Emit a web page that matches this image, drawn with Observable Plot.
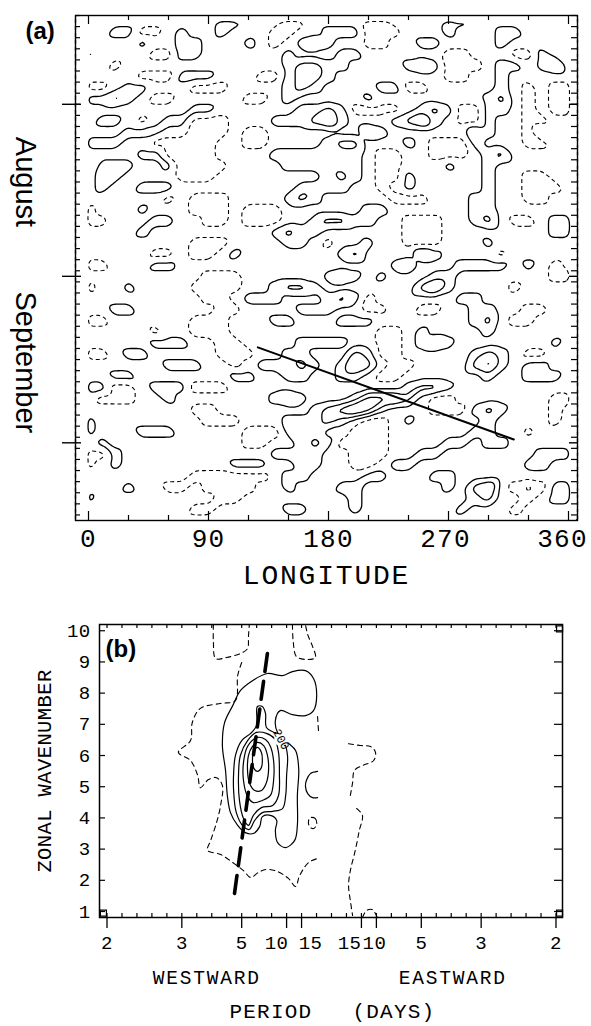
<!DOCTYPE html>
<html>
<head>
<meta charset="utf-8">
<script src="https://cdn.jsdelivr.net/npm/d3@7"></script>
<script src="https://cdn.jsdelivr.net/npm/@observablehq/plot@0.6"></script>
<style>
  html, body { margin: 0; padding: 0; background: #fff; }
  #page { position: relative; width: 591px; height: 1026px; overflow: hidden; background: #fff; }
  #pa, #pb { position: absolute; left: 0; }
  #pa { top: 0; }
  #pb { top: 610px; }
  svg { display: block; }
</style>
</head>
<body>
<div id="page"><div id="pa"></div><div id="pb"></div></div>
<script>
// ================= Panel (a): longitude–time section =================
// Grid nodes: every 10° of longitude, every 2 days (day 0 = 16 July).
const hovLon = d3.range(0, 361, 10);
const hovDay = d3.range(1, 92, 2);
// Anomaly level at each node: b = -2, a = -1, . = 0, 1..4 positive.
const hovRows = [
  ".......... 11...aa... .aa....11. .......",
  "..11aa.1.. 1...aa..11 1aaa...1.. .11....",
  "....1..11. ..1.a.121. .aa..11... .1.....",
  "1....aa11. .....1...1 1......aa. ..aa1..",
  "..a....... .....12211 ....121aaa .11.12.",
  "....aaa111 ...aa1221. .......aa. .1.....",
  "aa.11...aa a....121.. ..11aa.... .1.a.aa",
  "1121.aa... ..aa.1.... .1........ 12.a.aa",
  "........11 ......1121 aaaa.121aa 11.a.aa",
  ".11.a.11aa a...111231 ...1231.aa 1..aa..",
  "...111..aa a.aa...... .21......2 1..a1..",
  "111..aaaaa ..aa....12 2...1.aaa1 ...aa..",
  "....11aaaa ....111111 1.aa..aaa. 12.....",
  "a111..1aaa a....11111 1.aa...1.. 1......",
  ".11....aaa ........12 1.aa1..... 1..aa..",
  ".1..111... ......1111 ..a.1..... 1..aaa.",
  "......a.aa a....121.. ...aaa...1 1..aa..",
  "a...1...aa a.aaa..... .11......1 1......",
  "aa...11..a a.aaa..122 11..aaa..1 2.aa.11",
  "....1..... ....1211.. ....aaa... .....11",
  "........aa a....11.a. .1..aaa... 1......",
  ".....aa.aa .1.......1 2....21... .a.....",
  "aa...11... .......... ...12...11 11.1.a.",
  ".........a aa......12 1.1...11.. .....aa",
  "a..1....aa aa..1221.. .....231.. ..a....",
  ".........a a.111...12 1a......11 .......",
  "..11...... aa....111. .aa..aa..1 1..aa..",
  "aa......aa a...11...1 11.......1 2.aa...",
  ".....a..aa a......... ..aa.1.... 1......",
  ".....111.. aa....1111 ..aa.121.. .....1.",
  "aa.11..... aaa..11... 21aa.....1 21.aa..",
  "......111. .a.11121.1 32.aa....2 31.11..",
  "..11...... .11..11..1 1.aa...... 1..111.",
  "11aa.111aa a......... ....1221.. .......",
  ".aaa..1... ....121... 13332.aa.. .....aa",
  "........aa .......123 431...aaa1 21...a.",
  "1........a aa...11121 .aa.1..... 1....a.",
  "1...111... ..aaa111.. aaa......1 1..a...",
  ".1........ ..aa..121a aaa....11. 11.....",
  "aa1....... ....1111.. aaa..11... ....111",
  "a.1....... .111..11.. aa.11..... ...11..",
  "........aa aaaa.11... .11...11.. .......",
  "...1..aa.a aaa..1...1 1......1.2 3.aba11",
  "1......... aa........ 1........1 2..a.11",
  "........aa .....11... 1.......1. ..a....",
  ".......... .......... .......... ......."
];
const hovCode = {c: -3, b: -2, a: -1, ".": 0, "1": 1, "2": 2, "3": 3, "4": 4};

const lonTicks = [0, 90, 180, 270, 360];
const lonMinor = [30, 60, 120, 150, 210, 240, 300, 330];
const dayTicks = d3.range(0, 92, 2);
const monthStartDay = [16, 47, 77];
const monthNames = ["August", "September"];
const monthLabelDay = [30, 62.5];
const phaseLon = [127, 319];
const phaseDay = [59.8, 76.4];

const hovPoints = [];
hovRows.forEach((row, r) => {
  row.replace(/ /g, "").split("").forEach((ch, c) => {
    hovPoints.push({lon: hovLon[c], day: hovDay[r], v: hovCode[ch]});
  });
});
const phaseLine = phaseLon.map((lon, i) => ({lon, day: phaseDay[i]}));

const MONO = "Liberation Mono, DejaVu Sans Mono, monospace";
const SANS = "Liberation Sans, Arial, sans-serif";
const innerWA = 591 - 75 - 14, innerHA = 610 - 15 - 90;
const contourBase = {x: "lon", y: "day", value: "v", interpolate: "barycentric", pixelSize: 2, blur: 1, fill: "none", stroke: "black"};
const lonLab = {frameAnchor: "bottom", dy: 26, fontFamily: MONO, fontSize: 26, fill: "black"};

const figA = Plot.plot({
  width: 591, height: 610,
  marginLeft: 75, marginRight: 14, marginTop: 15, marginBottom: 90,
  x: {domain: [-9.75, 366.75], axis: null},
  y: {domain: [0, 91], reverse: true, axis: null},
  style: {background: "white"},
  marks: [
    Plot.contour(hovPoints, {...contourBase, thresholds: [-2.5, -1.5, -0.5], strokeWidth: 1.1, strokeDasharray: "4,3"}),
    Plot.contour(hovPoints, {...contourBase, thresholds: [0.5, 1.5, 2.5, 3.5], strokeWidth: 1.3}),
    Plot.line(phaseLine, {x: "lon", y: "day", stroke: "black", strokeWidth: 2}),
    Plot.frame({stroke: "black", strokeWidth: 1.4}),
    // longitude ticks, pointing inward from top and bottom
    Plot.tickX(lonMinor, {x: d => d, insetTop: innerHA - 5, strokeWidth: 1.2}),
    Plot.tickX(lonTicks, {x: d => d, insetTop: innerHA - 9, strokeWidth: 1.2}),
    Plot.tickX(lonMinor, {x: d => d, insetBottom: innerHA - 5, strokeWidth: 1.2}),
    Plot.tickX(lonTicks, {x: d => d, insetBottom: innerHA - 9, strokeWidth: 1.2}),
    // day ticks on both sides, month starts reach outside
    Plot.tickY(dayTicks, {y: d => d, insetRight: innerWA - 5, strokeWidth: 1.2}),
    Plot.tickY(monthStartDay, {y: d => d, insetLeft: -13, insetRight: innerWA - 6, strokeWidth: 1.4}),
    Plot.tickY(dayTicks, {y: d => d, insetLeft: innerWA - 6, strokeWidth: 1.2}),
    Plot.tickY(monthStartDay, {y: d => d, insetLeft: innerWA - 8, strokeWidth: 1.4}),
    Plot.text(lonTicks, {filter: d => d < 270, x: d => d, text: d => String(d), ...lonLab}),
    Plot.text(lonTicks, {filter: d => d === 270, x: d => d, text: d => String(d), ...lonLab, dx: -3}),
    Plot.text(lonTicks, {filter: d => d === 360, x: d => d, text: d => String(d), ...lonLab, dx: -6}),
    Plot.text(["LONGITUDE"], {frameAnchor: "bottom", dy: 63, fontFamily: MONO, fontSize: 28, fill: "black"}),
    Plot.text(monthNames, {y: (d, i) => monthLabelDay[i], text: d => d, frameAnchor: "left", textAnchor: "middle", dx: -50, rotate: 90, fontFamily: SANS, fontSize: 29, fill: "black"}),
    Plot.text(["(a)"], {frameAnchor: "top-left", dx: -50, dy: 23, textAnchor: "start", lineAnchor: "bottom", fontFamily: SANS, fontWeight: "bold", fontSize: 24, fill: "black"})
  ]
});

// ================= Panel (b): wavenumber–frequency power =================
// Contour lines in (frequency [1/day], zonal wavenumber); west is negative.
const c100 = [[-0.243,6.32],[-0.238,7.06],[-0.220,7.60],[-0.203,8.08],[-0.176,8.40],[-0.143,8.63],[-0.109,8.56],[-0.087,8.69],[-0.058,8.72],[-0.040,8.47],[-0.033,7.92],[-0.040,7.44],[-0.058,7.28],[-0.087,7.31],[-0.114,7.44],[-0.125,7.12],[-0.120,6.74],[-0.098,6.42],[-0.080,6.16],[-0.073,5.58],[-0.076,4.72],[-0.076,3.76],[-0.082,3.28],[-0.102,3.05],[-0.120,3.21],[-0.125,3.60],[-0.122,3.92],[-0.136,4.08],[-0.154,4.04],[-0.160,3.72],[-0.174,3.50],[-0.192,3.53],[-0.209,3.76],[-0.225,4.17],[-0.232,4.72],[-0.236,5.52]];
const c150 = [[-0.165,7.57],[-0.154,7.57],[-0.147,7.35],[-0.145,6.90],[-0.125,6.71],[-0.107,6.48],[-0.098,6.00],[-0.100,5.36],[-0.102,4.72],[-0.109,4.30],[-0.131,4.21],[-0.154,4.17],[-0.171,3.92],[-0.183,3.63],[-0.196,3.72],[-0.212,4.17],[-0.218,4.88],[-0.218,5.42],[-0.214,6.00],[-0.200,6.48],[-0.180,6.71],[-0.167,6.96]];
const c200 = [[-0.167,6.74],[-0.145,6.71],[-0.127,6.54],[-0.118,6.10],[-0.116,5.42],[-0.118,4.72],[-0.131,4.40],[-0.156,4.33],[-0.174,4.08],[-0.185,3.76],[-0.196,3.98],[-0.205,4.56],[-0.207,5.42],[-0.203,6.00],[-0.187,6.48]];
const c250 = [[-0.165,6.58],[-0.147,6.51],[-0.136,6.29],[-0.129,5.84],[-0.129,5.20],[-0.136,4.72],[-0.154,4.56],[-0.174,4.49],[-0.187,4.69],[-0.196,5.20],[-0.196,5.78],[-0.187,6.29]];
const c300 = [[-0.165,6.42],[-0.151,6.32],[-0.143,6.03],[-0.140,5.58],[-0.145,5.13],[-0.156,4.88],[-0.171,4.88],[-0.183,5.13],[-0.187,5.52],[-0.185,6.00],[-0.176,6.29]];
const c350 = [[-0.165,6.26],[-0.156,6.10],[-0.154,5.84],[-0.156,5.62],[-0.165,5.49],[-0.174,5.62],[-0.176,5.87],[-0.174,6.13]];
const c100hook = [[-0.031,5.49],[-0.047,5.42],[-0.056,5.20],[-0.058,5.01],[-0.053,4.78],[-0.042,4.65],[-0.031,4.65]];
const d50topLeft = [[-0.263,10.2],[-0.263,9.62],[-0.258,9.11],[-0.234,9.14],[-0.203,9.27],[-0.187,9.43],[-0.185,9.81],[-0.183,10.2]];
const d50topRight = [[-0.087,10.2],[-0.085,9.62],[-0.078,9.17],[-0.056,9.08],[-0.036,9.14],[-0.042,9.49],[-0.053,9.88],[-0.058,10.2]];
const d50main = [[-0.200,8.98],[-0.209,8.56],[-0.214,7.76],[-0.247,7.67],[-0.292,7.51],[-0.310,7.06],[-0.314,6.48],[-0.341,6.10],[-0.314,5.84],[-0.298,5.36],[-0.292,4.97],[-0.274,5.23],[-0.256,5.29],[-0.243,5.04],[-0.247,4.40],[-0.256,3.85],[-0.269,3.28],[-0.276,2.96],[-0.247,2.83],[-0.220,2.57],[-0.196,2.31],[-0.180,2.09],[-0.163,2.25],[-0.145,2.35],[-0.120,2.28],[-0.096,2.06],[-0.080,1.80],[-0.071,2.15],[-0.051,2.57],[-0.031,2.70]];
const d50stub = [[-0.031,7.25],[-0.029,6.80]];
const d50ring = [[-0.047,4.01],[-0.036,3.98],[-0.033,3.79],[-0.040,3.66],[-0.049,3.72],[-0.051,3.92]];
const d50eastUpper = [[0.038,6.38],[0.065,6.32],[0.087,6.29],[0.098,6.10],[0.094,5.84],[0.069,5.68],[0.051,5.52],[0.047,5.13],[0.042,4.72]];
const d50eastLower = [[0.056,4.30],[0.069,4.08],[0.062,3.60],[0.053,2.96],[0.042,2.31],[0.038,1.83],[0.042,1.35],[0.047,0.87]];
const d50eastBump = [[0.069,0.81],[0.078,1.03],[0.091,1.06],[0.102,0.81]];

// Dispersion line drawn over the spectrum
const dispF = [-0.216, -0.1425];
const dispW = [1.58, 9.30];
// Contour label
const labelText = ["200"];
const labelF = [-0.112];
const labelW = [6.52];

const waves = [1, 2, 3, 4, 5, 6, 7, 8, 9, 10];
const periodsWest = [2, 3, 5, 10, 15];
const periodsEast = [15, 10, 5, 3, 2];
const cornerF = [-0.508, 0.508, 0.508];
const cornerW = [0.95, 0.95, 10.06];

const toRows = list => list.flatMap((pts, id) => pts.map(([f, w]) => ({f, w, id})));
const solidClosed = toRows([c100, c150, c200, c250, c300, c350]);
const solidOpen = toRows([c100hook]);
const dashedClosed = toRows([d50ring]);
const dashedOpen = toRows([d50topLeft, d50topRight, d50main, d50stub, d50eastUpper, d50eastLower, d50eastBump]);
const dispLine = dispF.map((f, i) => ({f, w: dispW[i]}));
const corners = cornerF.map((f, i) => ({f, w: cornerW[i]}));
const freqMinor = d3.range(-15, 16).map(k => k / 30);
const freqMajor = [...periodsWest.map(p => -1 / p), ...periodsEast.map(p => 1 / p)];

const innerWB = 591 - 99 - 29, innerHB = 416 - 14 - 109;
const lineBase = {x: "f", y: "w", z: "id", stroke: "black", fill: "none"};
const labB = {frameAnchor: "bottom", dy: 31, fontFamily: MONO, fontSize: 19, fill: "black"};
const labelPos = {x: (d, i) => labelF[i], y: (d, i) => labelW[i]};

const figB = Plot.plot({
  width: 591, height: 416,
  marginLeft: 99, marginRight: 29, marginTop: 14, marginBottom: 109,
  x: {domain: [-0.5167, 0.5145], axis: null},
  y: {domain: [0.808, 10.2], axis: null},
  style: {background: "white"},
  marks: [
    Plot.line(solidClosed, {...lineBase, curve: "catmull-rom-closed", strokeWidth: 1.2}),
    Plot.line(solidOpen, {...lineBase, curve: "catmull-rom", strokeWidth: 1.2}),
    Plot.line(dashedClosed, {...lineBase, curve: "catmull-rom-closed", strokeWidth: 1.1, strokeDasharray: "5,4"}),
    Plot.line(dashedOpen, {...lineBase, curve: "catmull-rom", strokeWidth: 1.1, strokeDasharray: "5,4"}),
    Plot.line(dispLine, {x: "f", y: "w", stroke: "black", strokeWidth: 3.6, strokeDasharray: "18,10"}),
    // the contour is broken where its value is written
    Plot.dot(labelText, {...labelPos, r: 7, fill: "white", stroke: "none"}),
    Plot.text(labelText, {...labelPos, text: d => d, rotate: 62, fontFamily: MONO, fontSize: 12, fill: "black"}),
    Plot.dot(corners, {x: "f", y: "w", symbol: "square", r: 3.4, stroke: "black", fill: "white", strokeWidth: 1.2}),
    Plot.frame({stroke: "black", strokeWidth: 1.5}),
    Plot.tickX(freqMinor, {x: d => d, insetBottom: innerHB - 4, strokeWidth: 1.2}),
    Plot.tickX(freqMinor, {x: d => d, insetTop: innerHB - 4, strokeWidth: 1.2}),
    Plot.tickX(freqMajor, {x: d => d, insetTop: innerHB, insetBottom: -11, strokeWidth: 1.3}),
    Plot.tickY(waves, {y: d => d, insetRight: innerWB - 6, strokeWidth: 1.2}),
    Plot.tickY(waves, {y: d => d, insetLeft: innerWB - 8, strokeWidth: 1.2}),
    Plot.text(waves, {y: d => d, text: d => String(d), frameAnchor: "left", dx: -9, textAnchor: "end", fontFamily: MONO, fontSize: 19, fill: "black"}),
    Plot.text(periodsWest, {filter: p => p <= 5, x: p => -1 / p, text: p => String(p), ...labB}),
    Plot.text(periodsWest, {filter: p => p === 10, x: p => -1 / p, text: p => String(p), ...labB, dx: -10}),
    Plot.text(periodsWest, {filter: p => p === 15, x: p => -1 / p, text: p => String(p), ...labB, dx: 9}),
    Plot.text(periodsEast, {filter: p => p === 15, x: p => 1 / p, text: p => String(p), ...labB, dx: -12}),
    Plot.text(periodsEast, {filter: p => p === 10, x: p => 1 / p, text: p => String(p), ...labB, dx: -2}),
    Plot.text(periodsEast, {filter: p => p <= 5, x: p => 1 / p, text: p => String(p), ...labB}),
    Plot.text(["WESTWARD", "EASTWARD"], {x: (d, i) => [-0.278, 0.27][i], text: d => d, frameAnchor: "bottom", dy: 66, fontFamily: MONO, fontSize: 19.5, fill: "black"}),
    Plot.text(["PERIOD", "(DAYS)"], {x: (d, i) => [-0.135, 0.139][i], text: d => d, frameAnchor: "bottom", dy: 100, fontFamily: MONO, fontSize: 21, fill: "black"}),
    Plot.text(["ZONAL WAVENUMBER"], {frameAnchor: "left", textAnchor: "middle", dx: -55, rotate: -90, fontFamily: MONO, fontSize: 20.5, fill: "black"}),
    Plot.text(["(b)"], {frameAnchor: "top-left", dx: 6, dy: 32, textAnchor: "start", lineAnchor: "bottom", fontFamily: SANS, fontWeight: "bold", fontSize: 24, fill: "black"})
  ]
});

// monospaced labels are set a little wider, like the plotter lettering
function spaceText(svg, map) {
  svg.querySelectorAll('g[aria-label="text"]').forEach(g => {
    const fs = g.getAttribute("font-size");
    if (map[fs] != null) g.setAttribute("letter-spacing", map[fs]);
    if (g.getAttribute("font-family") === MONO) g.style.fontVariantNumeric = "slashed-zero";
  });
}
spaceText(figA, {"26": "1.2px", "28": "1.8px"});
spaceText(figB, {"19": "0.4px", "19.5": "1.8px", "21": "1.2px", "20.5": "0.4px"});

document.getElementById("pa").appendChild(figA);
document.getElementById("pb").appendChild(figB);
</script>
</body>
</html>
